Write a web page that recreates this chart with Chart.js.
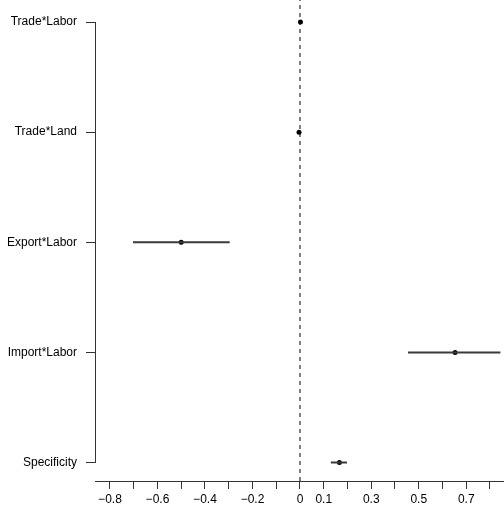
<!DOCTYPE html>
<html>
<head>
<meta charset="utf-8">
<script src="https://cdn.jsdelivr.net/npm/chart.js@4/dist/chart.umd.min.js"></script>
<style>
  html, body { margin: 0; padding: 0; background: #fff; }
  canvas { display: block; }
</style>
</head>
<body>
<canvas id="coef-chart" width="504" height="505"></canvas>
<script>
// terms, top to bottom
const terms = ['Trade*Labor', 'Trade*Land', 'Export*Labor', 'Import*Labor', 'Specificity'];
const estimates = [0.002, -0.004, -0.500, 0.653, 0.166];
const lower = [0.002, -0.004, -0.703, 0.455, 0.130];
const upper = [0.002, -0.004, -0.296, 0.844, 0.198];

// x ticks every 0.1, only some get a label (R dropped the overlapping ones)
const xTicks = [-0.8, -0.7, -0.6, -0.5, -0.4, -0.3, -0.2, -0.1, 0, 0.1, 0.2, 0.3, 0.4, 0.5, 0.6, 0.7, 0.8];
const xLabels = ['-0.8', '', '-0.6', '', '-0.4', '', '-0.2', '', '0', '0.1', '', '0.3', '', '0.5', '', '0.7', ''];

const X_MIN = -0.863;
const X_MAX = 0.859;
const Y_MIN = -0.168;
const Y_MAX = 4.2;

const rowY = terms.map((_, i) => terms.length - 1 - i);

Chart.defaults.font.family = '"Liberation Sans", Arial, sans-serif';
Chart.defaults.font.size = 12;
Chart.defaults.color = '#000';

const datasets = [];

// dashed reference line at zero
datasets.push({
    type: 'line',
    data: [{ x: 0, y: Y_MIN }, { x: 0, y: Y_MAX }],
    borderColor: '#000',
    borderWidth: 1,
    borderDash: [4, 4],
    pointRadius: 0,
    fill: false
});

// interval lines
terms.forEach((term, i) => {
    if (upper[i] - lower[i] < 0.01) return;
    datasets.push({
        type: 'line',
        label: term,
        data: [{ x: lower[i], y: rowY[i] }, { x: upper[i], y: rowY[i] }],
        borderColor: '#3a3a3a',
        borderWidth: 2,
        pointRadius: 0,
        fill: false
    });
});

// point estimates
datasets.push({
    type: 'scatter',
    data: estimates.map((v, i) => ({ x: v, y: rowY[i] })),
    backgroundColor: '#000',
    borderColor: '#000',
    pointRadius: 2.5,
    borderWidth: 0
});

// y axis line only spans the rows, like base R
const yAxisLine = {
    id: 'yAxisLine',
    afterDraw(chart) {
        const ctx = chart.ctx;
        const y = chart.scales.y;
        const x = Math.round(chart.chartArea.left) + 0.5;
        ctx.save();
        ctx.strokeStyle = '#333';
        ctx.lineWidth = 1;
        ctx.beginPath();
        ctx.moveTo(x, y.getPixelForValue(rowY[0]));
        ctx.lineTo(x, y.getPixelForValue(rowY[rowY.length - 1]) + 0.5);
        ctx.stroke();
        ctx.restore();
    }
};

function noPadding(scale) {
    scale.paddingTop = 0;
    scale.paddingBottom = 0;
    scale.paddingLeft = 0;
    scale.paddingRight = 0;
}

const chartCtx = document.getElementById('coef-chart').getContext('2d');
new Chart(chartCtx, {
    type: 'scatter',
    data: { datasets: datasets },
    options: {
        responsive: false,
        animation: false,
        layout: { padding: 0, autoPadding: false },
        plugins: {
            legend: { display: false },
            tooltip: { enabled: false }
        },
        scales: {
            x: {
                type: 'linear',
                min: X_MIN,
                max: X_MAX,
                afterBuildTicks: scale => {
                    scale.ticks = xTicks.map(v => ({ value: v }));
                },
                afterFit: scale => {
                    scale.height = 24;
                    noPadding(scale);
                },
                ticks: {
                    autoSkip: false,
                    maxRotation: 0,
                    padding: 3,
                    callback: (value, index) => xLabels[index].replace('-', '\u2212')
                },
                grid: {
                    drawOnChartArea: false,
                    tickLength: 8,
                    color: '#333'
                },
                border: { display: true, color: '#333' }
            },
            y: {
                type: 'linear',
                min: Y_MIN,
                max: Y_MAX,
                afterBuildTicks: scale => {
                    scale.ticks = rowY.map(v => ({ value: v }));
                },
                afterFit: scale => {
                    scale.width = 95;
                    noPadding(scale);
                },
                ticks: {
                    autoSkip: false,
                    padding: 9,
                    callback: value => terms[rowY.indexOf(value)]
                },
                grid: {
                    drawOnChartArea: false,
                    tickLength: 9,
                    color: '#333'
                },
                border: { display: false }
            }
        }
    },
    plugins: [yAxisLine]
});
</script>
</body>
</html>
